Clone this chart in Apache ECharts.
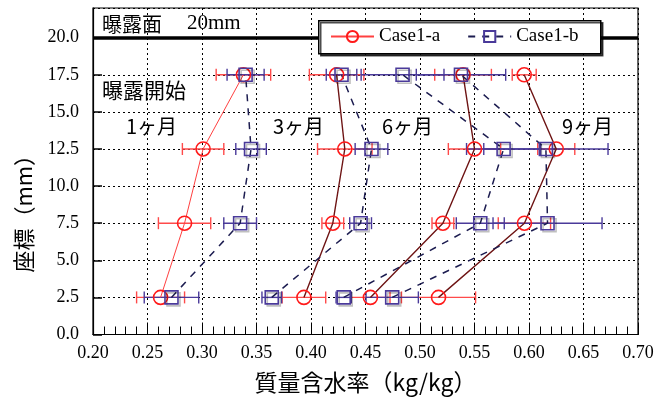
<!DOCTYPE html>
<html><head><meta charset="utf-8">
<script src="https://cdn.jsdelivr.net/npm/echarts@6/dist/echarts.min.js"></script>
<style>html,body{margin:0;padding:0;background:#fff}#c{width:664px;height:405px}</style>
</head><body><div id="c"></div>
<script>
// depth coordinate (mm)
const depths = [2.5, 7.5, 12.5, 17.5];
const xTicks = [0.20, 0.25, 0.30, 0.35, 0.40, 0.45, 0.50, 0.55, 0.60, 0.65, 0.70];
// Case1-a (circles)
const caseA_1m = [0.262, 0.284, 0.301, 0.338];
const caseA_1m_err = [0.022, 0.024, 0.019, 0.025];
const caseA_3m = [0.3935, 0.420, 0.431, 0.4235];
const caseA_3m_err = [0.020, 0.010, 0.025, 0.025];
const caseA_6m = [0.4545, 0.521, 0.550, 0.5395];
const caseA_6m_err = [0.018, 0.010, 0.024, 0.026];
const caseA_9m = [0.517, 0.5958, 0.625, 0.5956];
const caseA_9m_err = [0.034, 0.024, 0.017, 0.011];
// Case1-b (squares)
const caseB_1m = [0.272, 0.335, 0.345, 0.340];
const caseB_1m_err = [0.025, 0.015, 0.014, 0.017];
const caseB_3m = [0.364, 0.4455, 0.4555, 0.428];
const caseB_3m_err = [0.009, 0.010, 0.015, 0.014];
const caseB_6m = [0.430, 0.5553, 0.5767, 0.484];
const caseB_6m_err = [0.007, 0.022, 0.034, 0.038];
const caseB_9m = [0.4745, 0.617, 0.6155, 0.5376];
const caseB_9m_err = [0.024, 0.050, 0.057, 0.041];
const exposedSurface = 20.0;

const chart = echarts.init(document.getElementById('c'), null, {renderer: 'canvas'});
const serif = '"Liberation Serif", "Times New Roman", serif';
const jp = '"Noto Sans CJK JP", sans-serif';

function pts(xs) { return xs.map((x, i) => [x, depths[i]]); }
function errPts(xs, es) { return xs.map((x, i) => [x, depths[i], es[i]]); }

function errSeries(xs, es, color) {
  return {
    type: 'custom', name: 'err', z: 1, silent: true, animation: false,
    dimensions: ['x', 'y', 'e'], encode: {x: 0, y: 1},
    data: errPts(xs, es),
    renderItem(params, api) {
      const x = api.value(0), y = api.value(1), e = api.value(2);
      const p1 = api.coord([x - e, y]), p2 = api.coord([x + e, y]);
      const h = 6;
      const style = {stroke: color, lineWidth: 1.4, fill: null};
      return {type: 'group', children: [
        {type: 'line', shape: {x1: p1[0], y1: p1[1], x2: p2[0], y2: p2[1]}, style},
        {type: 'line', shape: {x1: p1[0], y1: p1[1] - h, x2: p1[0], y2: p1[1] + h}, style},
        {type: 'line', shape: {x1: p2[0], y1: p2[1] - h, x2: p2[0], y2: p2[1] + h}, style}
      ]};
    }
  };
}
function aSeries(xs, lineColor, w) {
  return {
    type: 'line', name: 'Case1-a', data: pts(xs), z: 3, animation: false,
    symbol: 'circle', symbolSize: 14, showAllSymbol: true,
    lineStyle: {color: lineColor, width: w},
    itemStyle: {color: 'rgba(255,255,255,0)', borderColor: '#ff1a1a', borderWidth: 1.6},
    emphasis: {disabled: true}
  };
}
function bSeries(xs) {
  return {
    type: 'line', name: 'Case1-b', data: pts(xs), z: 3, animation: false,
    symbol: 'rect', symbolSize: 13, showAllSymbol: true,
    lineStyle: {color: '#1c1c50', width: 1.5, type: [7, 7]},
    itemStyle: {color: 'rgba(255,255,255,0)', borderColor: '#4a3a9a', borderWidth: 1.6,
      shadowColor: 'rgba(0,0,0,0.25)', shadowOffsetX: 2, shadowOffsetY: 2, shadowBlur: 0},
    emphasis: {disabled: true}
  };
}

const aLine = '#6e1414';
const option = {
  backgroundColor: '#fff',
  animation: false,
  grid: {left: 93, right: 26, top: 8, bottom: 70.5, show: true, borderColor: '#000', borderWidth: 1.2, backgroundColor: 'transparent'},
  legend: {
    data: ['Case1-a', 'Case1-b'], left: 325, top: 22,
    padding: [5, 5, 5, 5], itemWidth: 43, itemHeight: 14, itemGap: 27,
    textStyle: {fontFamily: serif, fontSize: 19, color: '#000'},
    selectedMode: false, zlevel: 1, z: 10
  },
  xAxis: {
    type: 'value', min: 0.2, max: 0.7, interval: 0.05,
    name: '質量含水率（kg/kg）', nameLocation: 'middle', nameGap: 36,
    nameTextStyle: {fontFamily: jp, fontSize: 23, color: '#000'},
    axisLine: {lineStyle: {color: '#000', width: 1.2}},
    axisTick: {inside: true, length: 12, lineStyle: {color: '#000'}},
    minorTick: {show: true, splitNumber: 5, length: 8, lineStyle: {color: '#000'}},
    axisLabel: {fontFamily: serif, fontSize: 18, color: '#000', margin: 10,
      formatter: v => v.toFixed(2)},
    splitLine: {show: true, lineStyle: {color: '#000', type: [2, 3], width: 1}}
  },
  yAxis: {
    type: 'value', min: 0, max: 22, interval: 2.5,
    name: '座標（mm）', nameLocation: 'middle', nameGap: 58, nameRotate: 90,
    nameTextStyle: {fontFamily: jp, fontSize: 22, color: '#000', padding: [0, 74, 0, 0]},
    axisLine: {show: true, lineStyle: {color: '#000', width: 1.2}},
    axisTick: {show: true, inside: true, length: 9, lineStyle: {color: '#000', width: 1.5}},
    axisLabel: {fontFamily: serif, fontSize: 18, color: '#000', margin: 14, showMaxLabel: false,
      formatter: v => (v > 20.01 ? '' : v.toFixed(1))},
    splitLine: {show: true, lineStyle: {color: '#000', type: [2, 3], width: 1}}
  },
  graphic: [
    {type: 'rect', zlevel: 1, z: 5, left: 318, top: 20, shape: {width: 282, height: 33},
      style: {fill: '#fff', stroke: '#000', lineWidth: 1.5,
        shadowColor: 'rgba(0,0,0,0.7)', shadowOffsetX: 2, shadowOffsetY: 2, shadowBlur: 0}},
    {type: 'text', left: 102, top: 14, style: {text: '曝露面', font: '20px "Noto Sans CJK JP"', fill: '#000'}},
    {type: 'text', left: 187, top: 13, style: {text: '20mm', font: '21px "Liberation Serif"', fill: '#000'}},
    {type: 'text', left: 102, top: 80, style: {text: '曝露開始', font: '21px "Noto Sans CJK JP"', fill: '#000'}},
    {type: 'text', left: 126, top: 116, style: {text: '1ヶ月', font: '20px "Noto Sans CJK JP"', fill: '#000'}},
    {type: 'text', left: 273, top: 116, style: {text: '3ヶ月', font: '20px "Noto Sans CJK JP"', fill: '#000'}},
    {type: 'text', left: 382, top: 116, style: {text: '6ヶ月', font: '20px "Noto Sans CJK JP"', fill: '#000'}},
    {type: 'text', left: 562, top: 116, style: {text: '9ヶ月', font: '20px "Noto Sans CJK JP"', fill: '#000'}}
  ],
  series: [
    {
      type: 'line', name: 'surface', data: [], z: 2,
      markLine: {silent: true, symbol: 'none', label: {show: false},
        lineStyle: {color: '#000', width: 3.5, type: 'solid'},
        data: [{yAxis: exposedSurface}]}
    },
    errSeries(caseA_1m, caseA_1m_err, '#ff4a4a'),
    errSeries(caseA_3m, caseA_3m_err, '#ff4a4a'),
    errSeries(caseA_6m, caseA_6m_err, '#ff4a4a'),
    errSeries(caseA_9m, caseA_9m_err, '#ff4a4a'),
    errSeries(caseB_1m, caseB_1m_err, '#4a3a9a'),
    errSeries(caseB_3m, caseB_3m_err, '#4a3a9a'),
    errSeries(caseB_6m, caseB_6m_err, '#4a3a9a'),
    errSeries(caseB_9m, caseB_9m_err, '#4a3a9a'),
    aSeries(caseA_1m, '#ff4040', 1),
    aSeries(caseA_3m, aLine, 1.4),
    aSeries(caseA_6m, aLine, 1.4),
    aSeries(caseA_9m, aLine, 1.4),
    bSeries(caseB_1m),
    bSeries(caseB_3m),
    bSeries(caseB_6m),
    bSeries(caseB_9m)
  ]
};
chart.setOption(option);
</script>
</body></html>
